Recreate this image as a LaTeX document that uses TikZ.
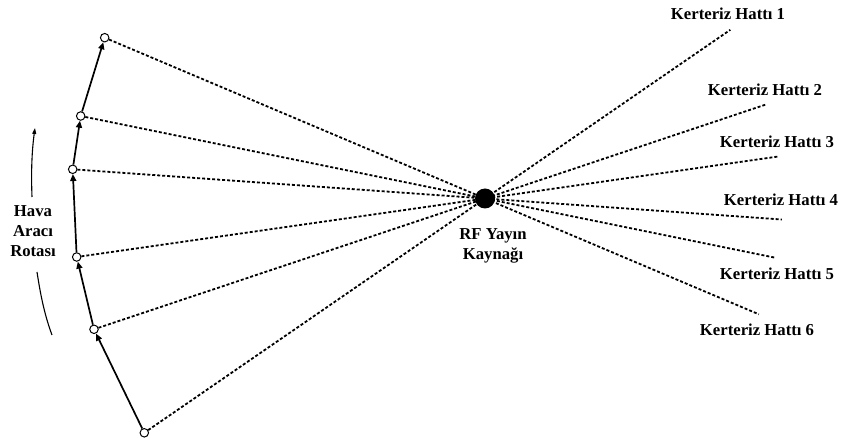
\documentclass[tikz,border=0pt]{standalone}
\usepackage{fontspec}
\setmainfont{Liberation Serif}
\usetikzlibrary{arrows.meta,calc}
\begin{document}
\begin{tikzpicture}[x=1pt,y=-1pt,
  lbl/.style={font=\fontsize{16.7}{20}\selectfont\bfseries, inner sep=0pt, align=center},
  pt/.style={circle, draw, fill=white, minimum size=8.5pt, inner sep=0pt, line width=1pt},
  src/.style={circle, fill=black, minimum size=20pt, inner sep=0pt},
  route/.style={line width=1.7pt, -{Triangle[length=7pt,width=6pt]}},
  ray/.style={dash pattern=on 3pt off 2pt, line width=1.8pt},
  turn/.style={line width=1.1pt}]
\useasboundingbox (0,0) rectangle (841,438);
% aircraft positions
\node[pt] (p1) at (104.7,37.7) {};
\node[pt] (p2) at (80.7,116) {};
\node[pt] (p3) at (72.7,169.3) {};
\node[pt] (p4) at (76.7,257) {};
\node[pt] (p5) at (94,329.3) {};
\node[pt] (p6) at (144.3,432.8) {};
\node[src] (s) at (485,198.5) {};
% bearing line ends
\coordinate (e1) at ($(s)!-0.72!(p6)$);
\coordinate (e2) at ($(s)!-0.72!(p5)$);
\coordinate (e3) at ($(s)!-0.72!(p4)$);
\coordinate (e4) at ($(s)!-0.72!(p3)$);
\coordinate (e5) at ($(s)!-0.72!(p2)$);
\coordinate (e6) at ($(s)!-0.72!(p1)$);
% rays
\draw[ray] (p6) -- (e1);
\draw[ray] (p5) -- (e2);
\draw[ray] (p4) -- (e3);
\draw[ray] (p3) -- (e4);
\draw[ray] (p2) -- (e5);
\draw[ray] (p1) -- (e6);
% route
\draw[route] (p6) -- (p5);
\draw[route] (p5) -- (p4);
\draw[route] (p4) -- (p3);
\draw[route] (p3) -- (p2);
\draw[route] (p2) -- (p1);
% labels
\node[lbl] (k1) at (728,14) {Kerteriz Hattı 1};
\node[lbl] (k2) at (765,90) {Kerteriz Hattı 2};
\node[lbl] (k3) at (777,142) {Kerteriz Hattı 3};
\node[lbl] (k4) at (781,200) {Kerteriz Hattı 4};
\node[lbl] (k5) at (777,274) {Kerteriz Hattı 5};
\node[lbl] (k6) at (757,330) {Kerteriz Hattı 6};
\node[lbl] (rf) at (493,246) {RF Yayın\\Kaynağı};
\node[lbl] (hv) at (33,231) {Hava\\Aracı\\Rotası};
% route direction arc
\draw[turn,-{Triangle[length=6pt,width=4pt]}] (32,197) .. controls (31,170) and (32,150) .. (35,128);
\draw[turn] (37,272) .. controls (41,298) and (45,316) .. (52,335);
\end{tikzpicture}
\end{document}
